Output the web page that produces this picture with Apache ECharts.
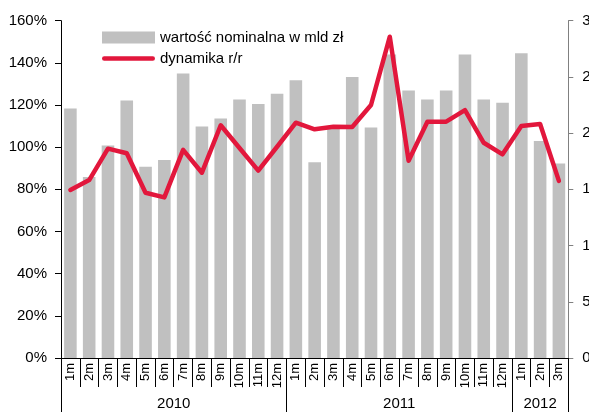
<!DOCTYPE html>
<html>
<head>
<meta charset="utf-8">
<script src="https://cdn.jsdelivr.net/npm/echarts@6/dist/echarts.min.js"></script>
<style>html,body{margin:0;padding:0;background:#fff}#c{width:589px;height:412px}</style>
</head>
<body>
<div id="c"></div>
<script>
var months = ['1m','2m','3m','4m','5m','6m','7m','8m','9m','10m','11m','12m',
              '1m','2m','3m','4m','5m','6m','7m','8m','9m','10m','11m','12m',
              '1m','2m','3m'];
var years = ['2010','2011','2012'];
var yearSpans = [12, 12, 3];
// wartość nominalna w mld zł (right axis)
var nominal = [22.2,16.1,18.9,22.9,17.0,17.6,25.3,20.6,21.3,23.0,22.6,23.5,
               24.7,17.4,20.6,25.0,20.5,27.0,23.8,23.0,23.8,27.0,23.0,22.7,
               27.1,19.3,17.3];
// dynamika r/r (%)
var dynamics = [79.7,84.4,99.3,97.1,78.4,76.2,98.7,87.9,110.4,99.6,88.9,100.2,
                111.6,108.5,109.7,109.6,120.0,152.4,93.6,112.1,112.1,117.6,102.1,96.6,
                110.0,111.0,84.0];
var leftTicks = {min:0, max:160, interval:20};
var rightTicks = {min:0, max:30, interval:5};

// year axis built on half-month points
var total = months.length;
var yearPts = [];
for (var i = 0; i <= total*2; i++) yearPts.push('');
var bounds = [0];
var acc = 0;
for (var k = 0; k < years.length; k++) {
  yearPts[acc*2 + yearSpans[k]] = years[k];
  acc += yearSpans[k];
  bounds.push(acc*2);
}

var chart = echarts.init(document.getElementById('c'));
var font = 'Liberation Sans, Arial, sans-serif';
chart.setOption({
  animation: false,
  textStyle: {fontFamily: font},
  grid: {left: 61, right: 20.7, top: 20.7, bottom: 54, outerBoundsMode: 'none', containLabel: false},
  legend: {
    orient: 'vertical', left: 97, top: 25, itemWidth: 53, itemHeight: 12,
    itemGap: 6, itemTextGap: 5,
    textStyle: {fontSize: 15, color: '#000', fontFamily: font},
    data: [{name: 'wartość nominalna w mld zł', icon: 'rect'},
           {name: 'dynamika r/r', icon: 'path://M2,0 L51,0 A2.25,2.25 0 0 1 51,4.5 L2,4.5 A2.25,2.25 0 0 1 2,0 Z'}]
  },
  xAxis: [{
    type: 'category', data: months, position: 'bottom',
    axisLine: {show: true, lineStyle: {color: '#000', width: 1}},
    axisTick: {show: true, interval: 0, length: 29, lineStyle: {color: '#000'}},
    axisLabel: {interval: 0, rotate: 90, fontSize: 13, color: '#000', margin: 5}
  }, {
    type: 'category', data: yearPts, position: 'bottom', boundaryGap: false,
    axisLine: {show: false},
    axisTick: {show: true, length: 54, lineStyle: {color: '#000'},
      interval: function (idx) { return bounds.indexOf(idx) >= 0; }},
    axisLabel: {interval: 0, fontSize: 15, color: '#000', margin: 38}
  }],
  yAxis: [{
    type: 'value', min: leftTicks.min, max: leftTicks.max, interval: leftTicks.interval,
    axisLine: {show: true, lineStyle: {color: '#000'}},
    axisTick: {show: true, length: 6, lineStyle: {color: '#000'}},
    splitLine: {show: false},
    axisLabel: {formatter: '{value}%', fontSize: 15, color: '#000', margin: 14}
  }, {
    type: 'value', min: rightTicks.min, max: rightTicks.max, interval: rightTicks.interval,
    position: 'right',
    axisLine: {show: true, lineStyle: {color: '#808080'}},
    axisTick: {show: true, length: 5, lineStyle: {color: '#808080'}},
    splitLine: {show: false},
    axisLabel: {fontSize: 15, color: '#000', margin: 14}
  }],
  series: [{
    name: 'wartość nominalna w mld zł', type: 'bar', yAxisIndex: 1, xAxisIndex: 0,
    data: nominal, barCategoryGap: '33%', itemStyle: {color: '#c0c0c0'}
  }, {
    name: 'dynamika r/r', type: 'line', yAxisIndex: 0, xAxisIndex: 0,
    data: dynamics, symbol: 'none', z: 5,
    lineStyle: {color: '#e2173c', width: 4.5, cap: 'round', join: 'round'}, itemStyle: {color: '#e2173c'}
  }]
});
</script>
</body>
</html>
